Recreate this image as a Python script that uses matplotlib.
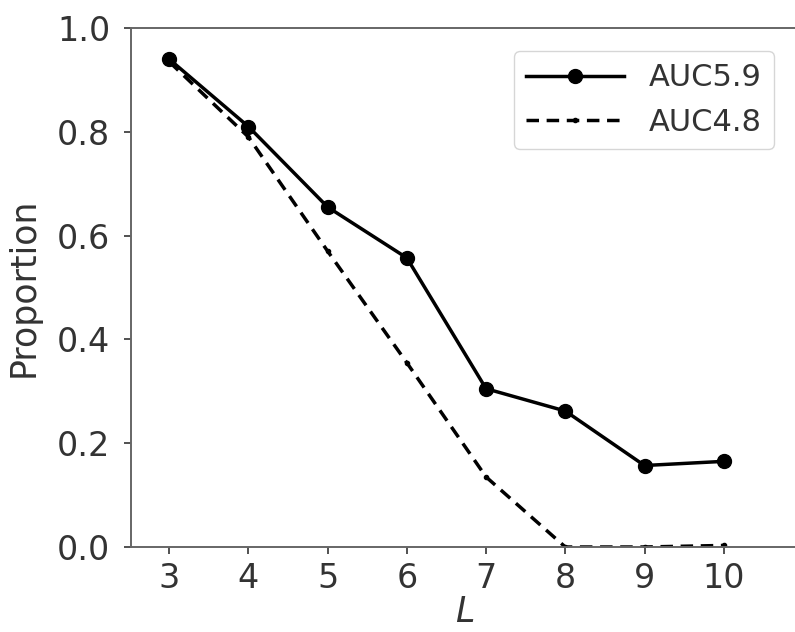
import matplotlib
matplotlib.use("Agg")
import matplotlib.pyplot as plt

# values
L_values = [3, 4, 5, 6, 7, 8, 9, 10]
auc59 = [0.94, 0.81, 0.655, 0.557, 0.305, 0.262, 0.157, 0.165]
auc48 = [0.935, 0.79, 0.57, 0.355, 0.135, 0.0, 0.0, 0.003]

fig = plt.figure(figsize=(7.95, 6.32), dpi=100)
ax = fig.add_axes([0.165, 0.1345, 0.84, 0.8212])

ax.plot(L_values, auc59, color='black', linestyle='-', marker='o',
        markersize=10, linewidth=2.5, label='AUC5.9')
ax.plot(L_values, auc48, color='black', linestyle='--', marker='.',
        markersize=6, linewidth=2.5, dashes=(3.6, 2.2), label='AUC4.8')

ax.set_xlim(2.52, 10.95)
ax.set_ylim(0.0, 1.0)
ax.set_xticks(L_values)
ax.set_yticks([0.0, 0.2, 0.4, 0.6, 0.8, 1.0])
ax.set_yticklabels(['0.0', '0.2', '0.4', '0.6', '0.8', '1.0'])
ax.tick_params(labelsize=24, colors='#333333', length=5, width=1.2, pad=10)
ax.tick_params(axis='x', pad=6)
for spine in ax.spines.values():
    spine.set_color('#666666')
    spine.set_linewidth(1.4)

ax.set_xlabel('$L$', fontsize=25, color='#333333', labelpad=0)
ax.set_ylabel('Proportion', fontsize=25, color='#333333', labelpad=12)

leg = ax.legend(loc='upper right', fontsize=22, handlelength=3.2,
                bbox_to_anchor=(0.985, 0.985), labelcolor='#333333')

fig.savefig('out.png', dpi=100)
